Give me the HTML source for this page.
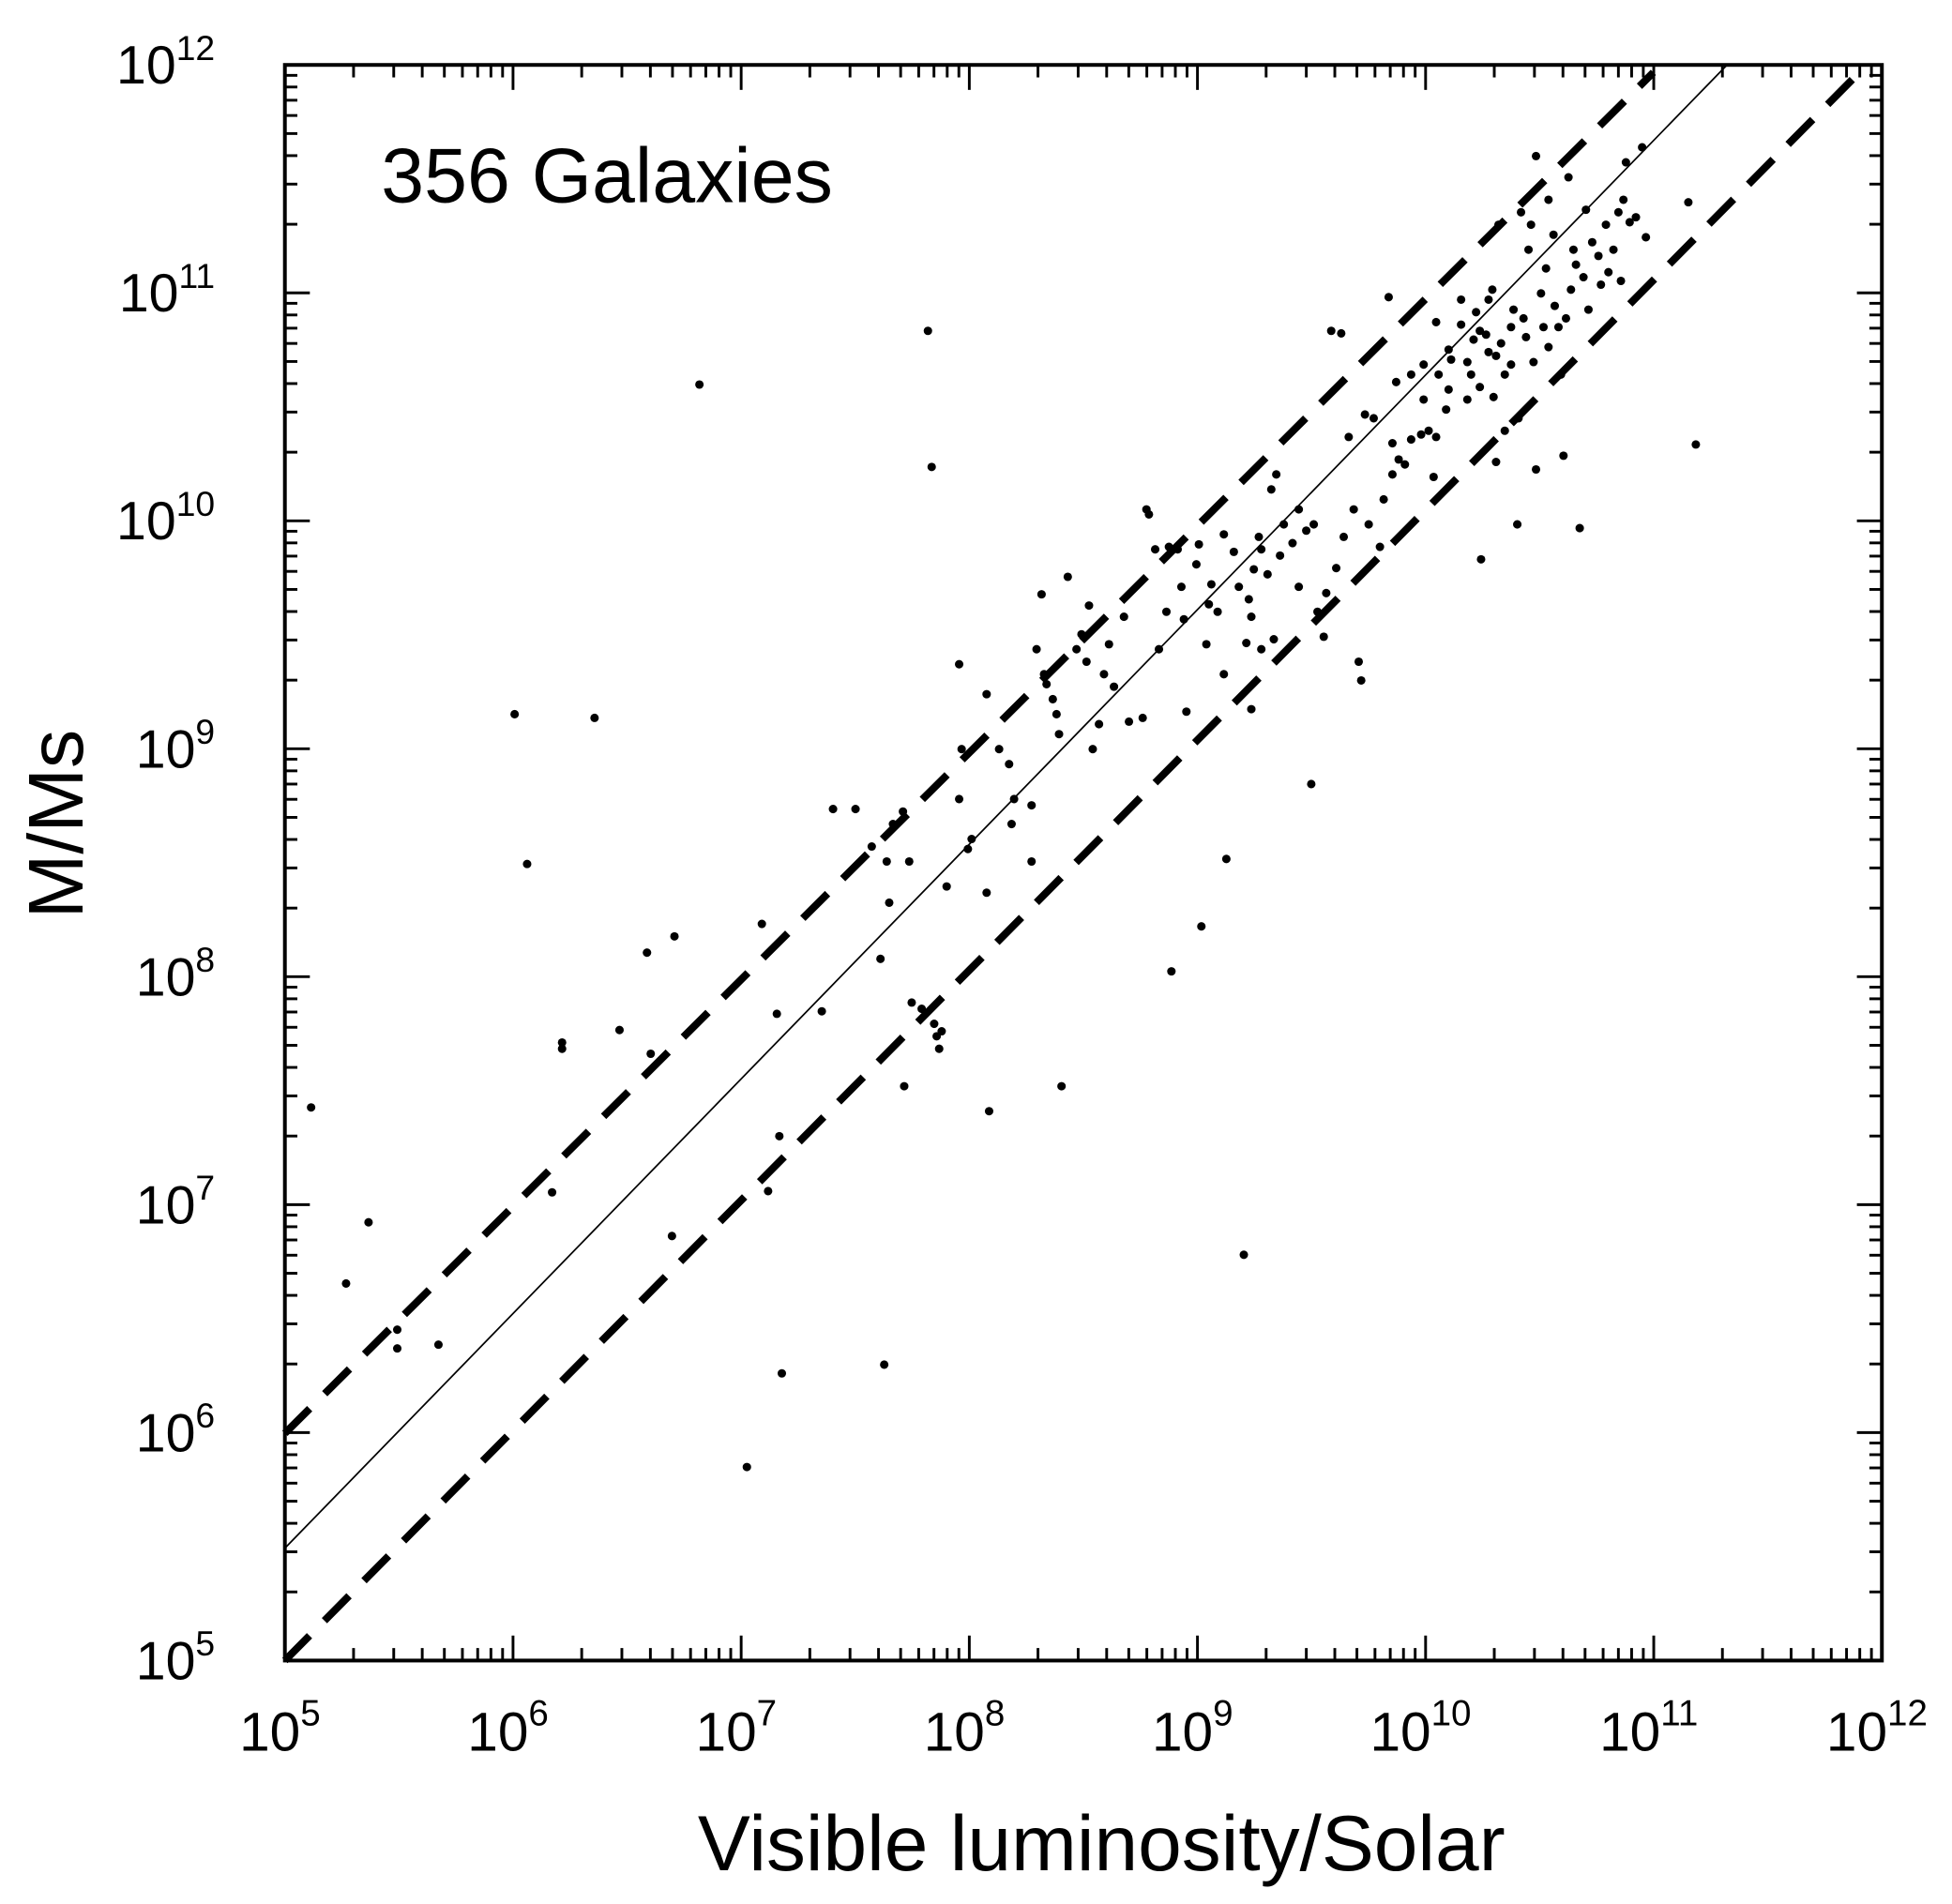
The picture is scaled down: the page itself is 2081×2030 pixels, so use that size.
<!DOCTYPE html>
<html><head><meta charset="utf-8"><style>
html,body{margin:0;padding:0;background:#fff;}
svg{display:block;}
text{font-family:"Liberation Sans",Arial,sans-serif;fill:#000;}
</style></head><body>
<svg id="s" width="2081" height="2030" viewBox="0 0 1563 1525" xmlns="http://www.w3.org/2000/svg">
<rect x="0" y="0" width="1563" height="1525" fill="#fff"/>
<g id="ticks" stroke="#000" stroke-width="2.2"></g>
<rect x="228" y="52" width="1279" height="1278" fill="none" stroke="#000" stroke-width="3"/>
<line x1="228" y1="1240" x2="1383" y2="52" stroke="#000" stroke-width="1.3"/>
<line x1="228" y1="1148" x2="1324" y2="58" stroke="#000" stroke-width="6" stroke-dasharray="28 17"/>
<line x1="228" y1="1330" x2="1487" y2="60" stroke="#000" stroke-width="6" stroke-dasharray="28 17"/>
<g id="pts" fill="#000"></g>
<text x="305" y="162" font-size="62">356 Galaxies</text>
<g id="lbl"></g>
<text transform="translate(66,660) rotate(-90)" font-size="62" text-anchor="middle">M/Ms</text>
<text x="882" y="1498" font-size="63" text-anchor="middle">Visible luminosity/Solar</text>
</svg>
<script>
var L=228,R=1507,T=52,B=1330,dx=(R-L)/7,dy=(B-T)/7,t='',l='';
for(var d=0;d<=7;d++){
 for(var k=1;k<10;k++){
  if(d==7&&k>1)break;
  var f=Math.log10(k),maj=(k==1),len=maj?20:10;
  var x=L+(d+f)*dx,y=B-(d+f)*dy;
  t+='<line x1="'+x+'" y1="'+B+'" x2="'+x+'" y2="'+(B-len)+'"/>';
  t+='<line x1="'+x+'" y1="'+T+'" x2="'+x+'" y2="'+(T+len)+'"/>';
  t+='<line x1="'+L+'" y1="'+y+'" x2="'+(L+len)+'" y2="'+y+'"/>';
  t+='<line x1="'+R+'" y1="'+y+'" x2="'+(R-len)+'" y2="'+y+'"/>';
 }
 var e=5+d;
 l+='<text x="'+(L+d*dx-4)+'" y="1402" font-size="44" text-anchor="middle">10<tspan font-size="29" dy="-20">'+e+'</tspan></text>';
 l+='<text x="172" y="'+(B-d*dy+15)+'" font-size="43" text-anchor="end">10<tspan font-size="28" dy="-19">'+e+'</tspan></text>';
}
document.getElementById('ticks').innerHTML=t;
document.getElementById('lbl').innerHTML=l;
var P=[249,887,277,1028,295,979,318,1065,318,1080,351,1077,412,572,422,692,442,955,450,835,450,840,476,575,496,825,518,763,521,844,540,750,538,990,560,308,610,740,622,812,624,910,626,1100,598,1175,615,954,658,810,667,648,685,648,698,678,708,1093,705,768,712,723,710,690,715,660,723,650,728,690,724,870,730,803,738,808,743,265,746,374,748,820,750,830,752,840,754,826,758,710,768,532,770,600,768,640,775,680,778,672,790,556,792,890,790,715,800,600,808,612,812,640,810,660,826,645,826,690,834,476,830,520,836,540,838,548,843,560,846,572,848,588,850,870,855,462,862,520,866,508,870,530,875,600,872,485,880,580,884,540,888,516,892,550,900,494,904,578,915,575,918,408,920,412,925,440,928,520,934,490,936,438,938,778,943,440,946,470,948,496,950,570,958,452,960,436,962,742,966,516,968,484,970,468,975,490,980,428,982,688,988,442,992,470,996,1005,998,515,1002,494,1004,456,1008,430,1010,440,1018,392,1022,380,1028,420,1035,435,1040,408,1046,425,1050,628,1052,420,1055,490,1060,510,1062,475,1066,265,1074,267,1076,430,1080,350,1084,408,1088,530,1090,545,1093,332,1100,335,1105,438,1112,238,1115,355,1118,306,1120,368,1125,372,1130,352,1138,348,1140,292,1144,345,1148,382,1150,258,1152,300,1158,328,1160,312,1162,288,1170,260,1175,290,1178,300,1180,272,1186,448,1190,268,1192,282,1195,232,1198,370,1200,180,1202,275,1205,300,1210,292,1212,248,1215,420,1220,255,1222,270,1230,376,1234,235,1238,215,1240,278,1245,245,1248,262,1250,300,1252,365,1258,232,1260,200,1262,212,1268,222,1272,248,1275,194,1280,205,1282,228,1286,180,1288,218,1292,200,1296,170,1298,225,1300,160,1305,178,1310,174,1315,118,1318,190,1265,423,1352,162,1358,356,1230,125,1302,130,1218,170,1224,200,1244,188,1256,142,1270,168,1192,240,1182,250,1170,240,1160,280,1175,320,1185,310,1196,318,1205,345,1216,335,1140,320,1130,300,1150,350,1108,400,1115,380,1096,420,1070,455,1040,470,1025,445,1015,460,1000,480,1002,568,980,540,1020,512,1010,520,1185,265,1198,285,1210,262,1228,290,1236,262,1254,255,1226,180,1240,160];
var p='';for(var i=0;i<P.length;i+=2)p+='<circle cx="'+P[i]+'" cy="'+P[i+1]+'" r="3.4"/>';
document.getElementById('pts').innerHTML=p;
</script>
</body></html>
